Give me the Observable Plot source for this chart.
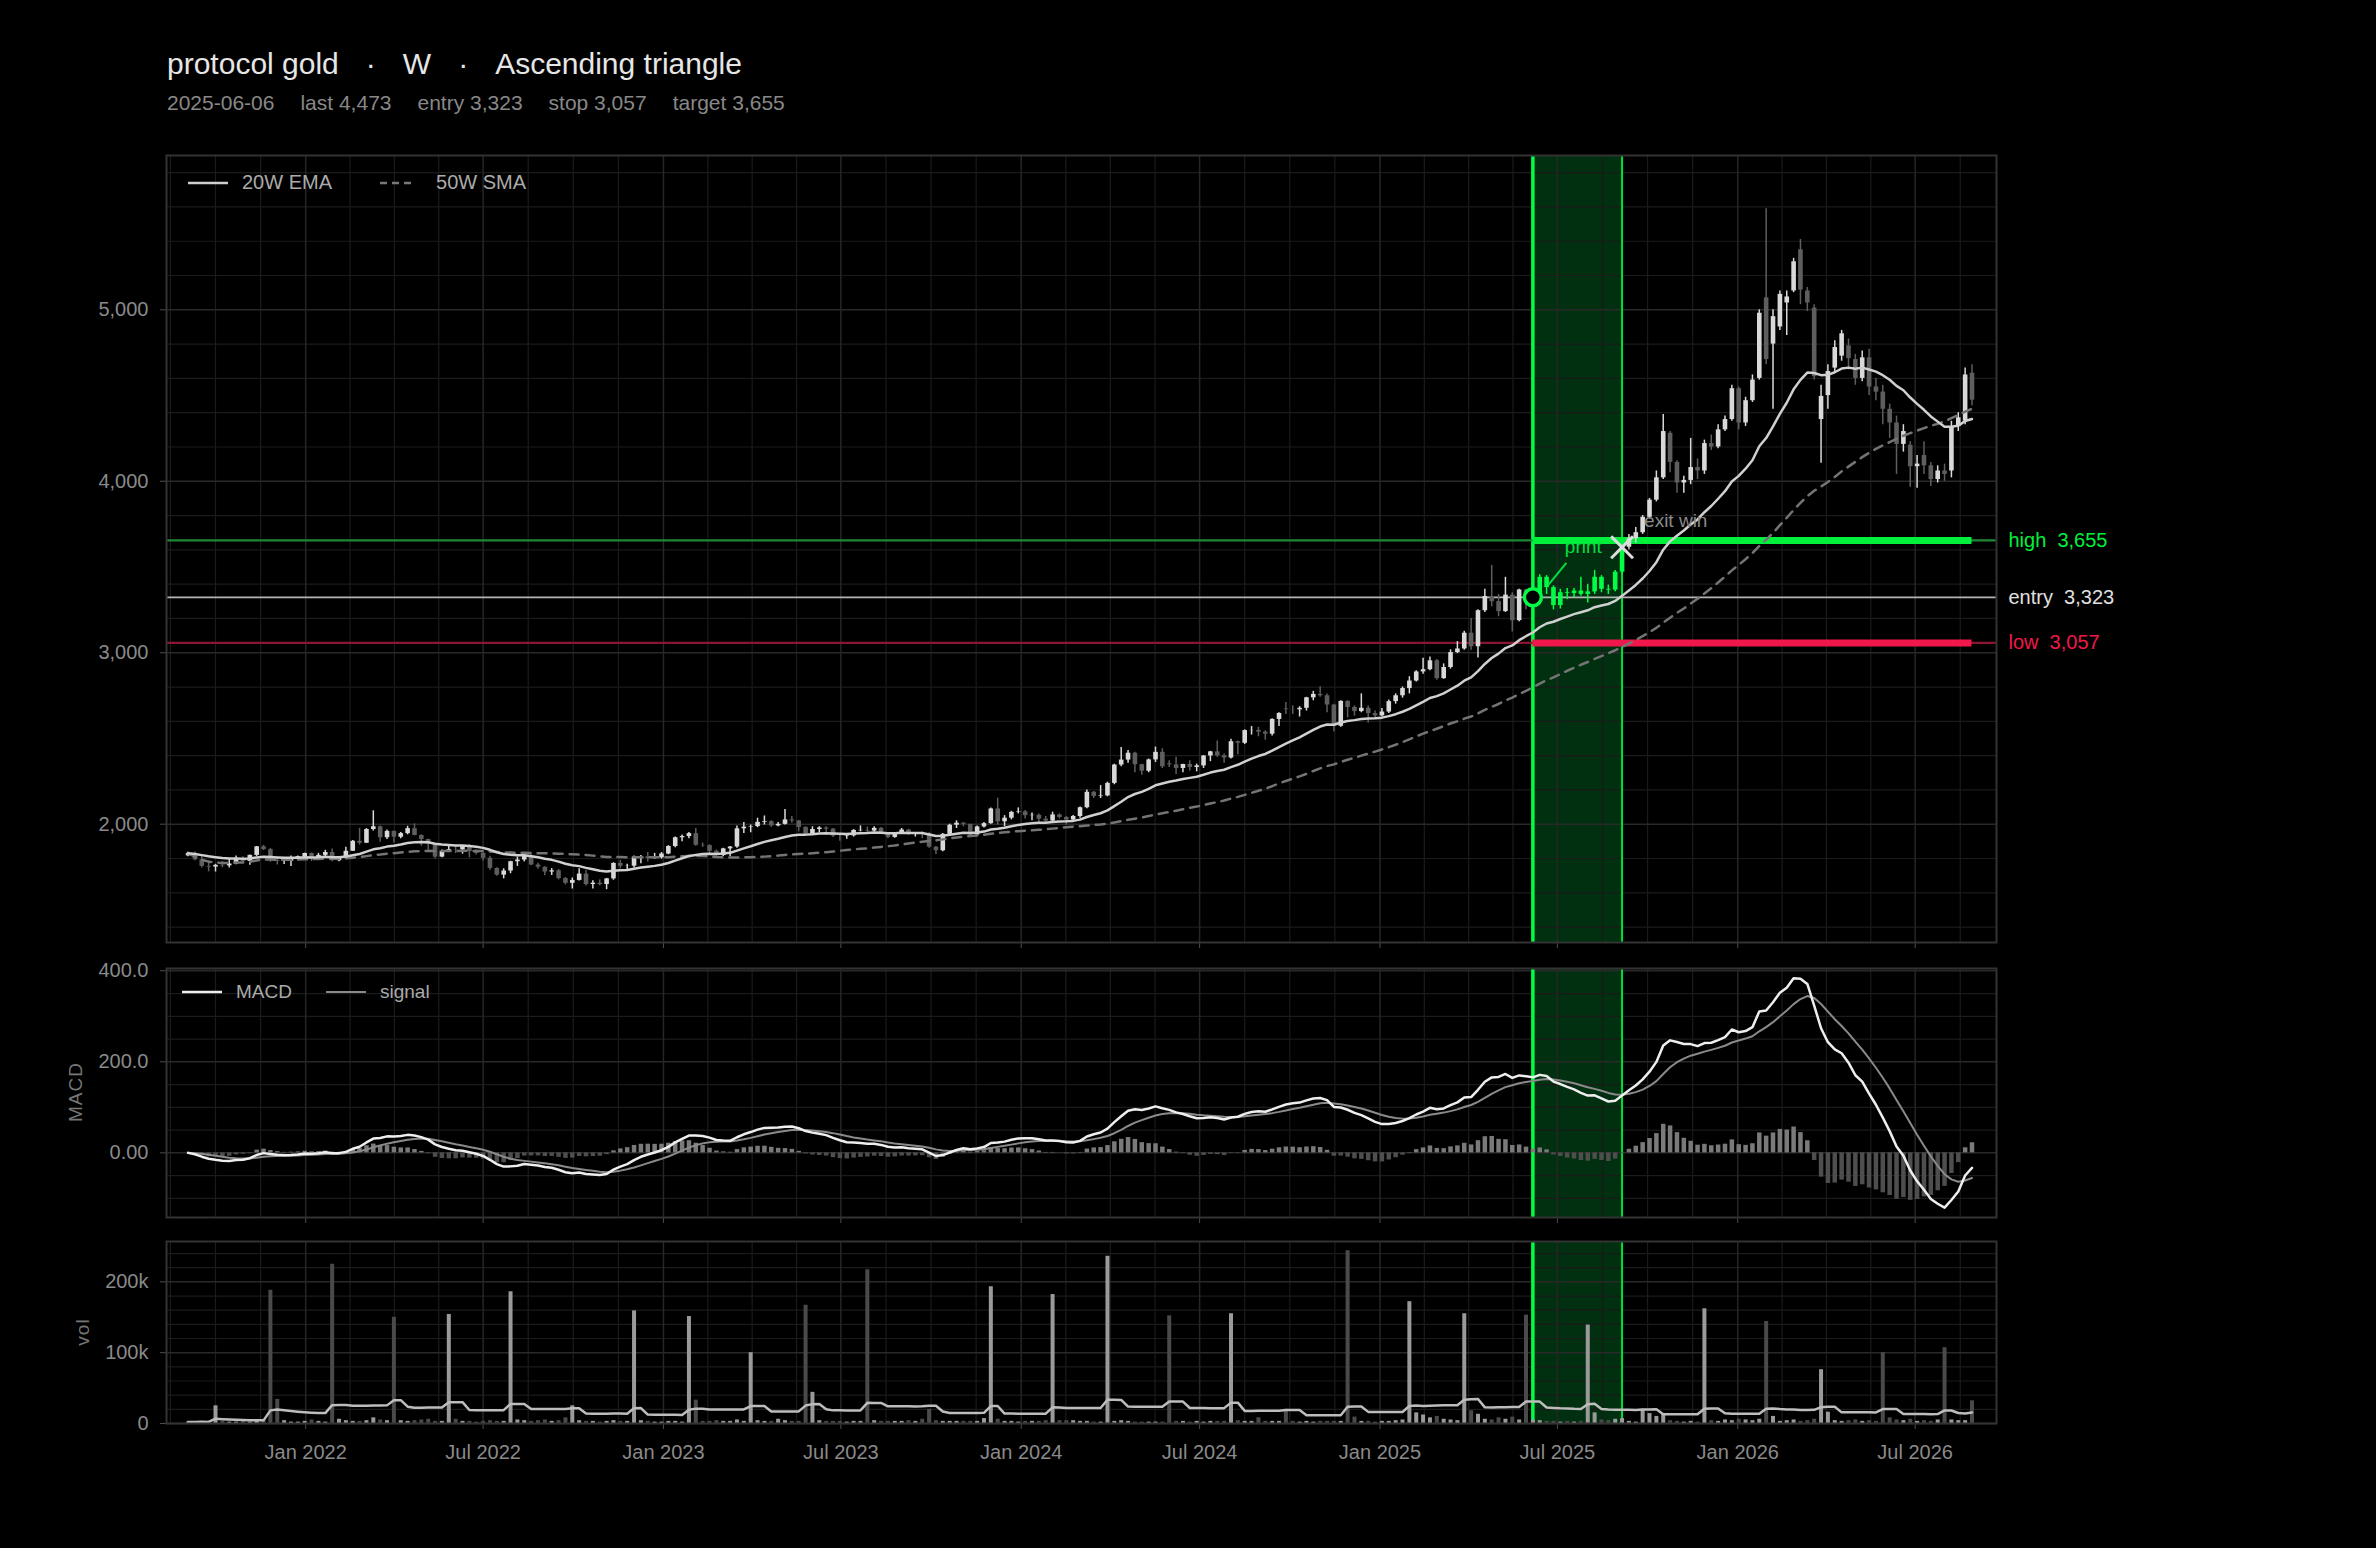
<!DOCTYPE html>
<html><head><meta charset="utf-8">
<script src="https://cdn.jsdelivr.net/npm/d3@7"></script>
<script src="https://cdn.jsdelivr.net/npm/@observablehq/plot@0.6"></script>
<style>
html,body{margin:0;padding:0;background:#000;}
body{width:2376px;height:1548px;overflow:hidden;position:relative;font-family:Helvetica,"Liberation Sans",Arial,sans-serif;}
#title{position:absolute;left:167px;top:49px;font-size:30px;line-height:30px;color:#e6e6e6;white-space:nowrap;}
#title span{margin-right:27px;}
#sub{position:absolute;left:167px;top:92px;font-size:21px;line-height:21px;color:#888;white-space:nowrap;}
#sub span{margin-right:26px;}
.panel{position:absolute;left:0;}
.lg{position:absolute;font-size:20px;color:#aaa;white-space:nowrap;display:flex;align-items:center;}
.lg svg{margin-right:14px;}
.lg .item{display:flex;align-items:center;margin-right:32px;}
.ylab{position:absolute;font-size:19px;color:#777;transform:translate(-50%,-50%) rotate(-90deg);white-space:nowrap;letter-spacing:1px;}
g[aria-label$="-axis tick"]{stroke:#4d4d4d;}
</style></head><body>
<div id="title"></div>
<div id="sub"></div>
<div id="main" class="panel" style="top:140px"></div>
<div id="macd" class="panel" style="top:955px"></div>
<div id="vol" class="panel" style="top:1228px"></div>
<div class="lg" style="left:188px;top:171px;">
  <div class="item" style="margin-right:48px"><svg width="40" height="4"><line x1="0" y1="2" x2="40" y2="2" stroke="#cfcfcf" stroke-width="2.5"/></svg>20W EMA</div>
  <div class="item"><svg width="36" height="4" style="margin-right:20px"><line x1="0" y1="2" x2="36" y2="2" stroke="#777" stroke-width="2.5" stroke-dasharray="7,5"/></svg>50W SMA</div>
</div>
<div class="lg" style="left:182px;top:981px;font-size:19px;">
  <div class="item" style="margin-right:34px"><svg width="40" height="4"><line x1="0" y1="2" x2="40" y2="2" stroke="#eeeeee" stroke-width="2.5"/></svg>MACD</div>
  <div class="item"><svg width="40" height="4"><line x1="0" y1="2" x2="40" y2="2" stroke="#8a8a8a" stroke-width="2"/></svg>signal</div>
</div>
<div class="ylab" style="left:76px;top:1092px;">MACD</div>
<div class="ylab" style="left:83px;top:1332px;">vol</div>
<script>
// ---------------- data ----------------
const symbol = "protocol gold";
const timeframe = "W";
const pattern = "Ascending triangle";
const firstWeek = "2021-09-03";           // weekly candles, Fridays
const entryDate = "2025-06-06";
const exitDate = "2025-09-05";
const entryPrice = 3323;
const stopPrice = 3057;
const targetPrice = 3655;

const open = [
1815,1830,1792,1754,1750,1760,1757,1768,1796,1783,1818,1868,1852,1788,1783,1784,1805,1811,
1829,1797,1818,1835,1787,1808,1842,1900,1889,1969,1985,1921,1958,1924,1945,1974,1934,1911,1882,1808,1842,1851,1850,1871,1840,1830,1801,1742,1703,1727,1781,1791,1816,1762,1749,1721,1728,1683,1655,1672,1709,1648,1656,1648,1681,1771,1754,1755,1809,1810,1800,1804,
1826,1870,1921,1928,1945,1877,1875,1842,1817,1856,1867,1973,1983,1986,2011,2015,1990,1999,2025,2019,1981,1944,1969,1978,1971,1930,1929,1932,1962,1964,1960,1976,1946,1923,1946,1966,1942,1947,1945,1866,1845,1941,1994,2006,1999,1937,1984,2003,2089,2014,2035,2069,
2072,2050,2052,2029,2018,2054,2039,2024,2045,2096,2186,2162,2165,2238,2345,2374,2414,2347,2309,2375,2419,2352,2346,2325,2348,2331,2340,2398,2422,2399,2386,2481,2472,2546,2547,2537,2525,2611,2672,2668,2667,2676,2737,2757,2749,2695,2571,2716,2681,2657,2676,2645,
2632,2654,2715,2749,2791,2835,2888,2901,2953,2849,2914,3001,3022,3114,3035,3245,3328,3298,3240,3336,3187,3366,3315,3323,3440,3380,3275,3350,3345,3360,3340,3355,3440,3370,3365,3470,3615,3665,3700,3790,3890,4020,4280,4110,3990,4005,4080,4060,4220,4200,4300,4360,
4540,4340,4470,4600,5070,4800,4900,5040,5110,5350,5110,5010,4360,4500,4660,4730,4790,4710,4600,4720,4550,4520,4420,4340,4215,4210,4085,4150,4090,4010,4060,4060,4320,4350,4630
];
const high = [
1836,1838,1810,1787,1766,1782,1800,1814,1810,1820,1870,1877,1859,1800,1793,1815,1815,1831,
1832,1830,1848,1855,1810,1866,1905,1976,1974,2078,1990,1966,1960,1952,1988,2002,1938,1912,1887,1850,1870,1874,1877,1881,1850,1834,1813,1746,1740,1784,1808,1825,1824,1772,1752,1741,1736,1689,1686,1740,1730,1670,1675,1684,1775,1789,1767,1815,1818,1835,1830,1835,
1875,1925,1937,1951,1975,1890,1880,1850,1860,1870,1990,2010,1995,2035,2048,2020,2010,2085,2045,2022,1985,1985,1985,1985,1975,1935,1940,1968,1990,1984,1985,1980,1950,1950,1975,1970,1950,1955,1950,1870,1945,2000,2020,2010,2000,1990,2010,2095,2152,2050,2075,2095,
2080,2065,2060,2045,2070,2060,2045,2050,2100,2200,2190,2225,2245,2350,2448,2430,2420,2350,2380,2450,2440,2370,2390,2350,2370,2350,2400,2425,2485,2410,2495,2485,2550,2570,2565,2545,2615,2650,2710,2690,2685,2740,2775,2801,2760,2700,2720,2720,2690,2760,2690,2660,
2675,2725,2760,2800,2860,2895,2968,2975,2960,2935,3017,3065,3125,3200,3250,3370,3509,3340,3440,3350,3370,3370,3400,3455,3450,3390,3370,3375,3375,3440,3400,3480,3450,3395,3480,3640,3690,3730,3800,3900,4060,4390,4290,4120,4030,4250,4130,4240,4270,4330,4380,4560,
4550,4490,4620,5000,5590,5000,5110,5110,5300,5410,5130,5030,4560,4680,4820,4880,4830,4740,4760,4770,4600,4560,4450,4380,4330,4230,4150,4230,4110,4090,4100,4350,4400,4660,4680
];
const low = [
1810,1787,1745,1722,1721,1746,1745,1764,1772,1760,1812,1846,1778,1762,1765,1753,1793,1790,
1782,1790,1806,1781,1781,1803,1841,1878,1887,1960,1895,1910,1890,1915,1938,1932,1872,1850,1797,1805,1836,1828,1825,1804,1820,1785,1732,1697,1681,1711,1754,1780,1757,1737,1700,1701,1675,1646,1622,1668,1640,1622,1640,1618,1673,1740,1735,1745,1770,1780,1795,1796,
1822,1862,1897,1915,1872,1865,1830,1815,1811,1810,1860,1945,1950,1980,1995,1982,1985,1995,2005,1955,1936,1938,1950,1935,1922,1900,1912,1925,1955,1945,1955,1940,1915,1918,1940,1935,1925,1915,1860,1823,1840,1930,1975,1985,1932,1935,1978,2000,1995,1985,2025,2060,
2030,2020,2010,2010,2015,2030,1995,2020,2035,2090,2150,2150,2160,2230,2335,2355,2300,2285,2300,2360,2325,2330,2290,2300,2310,2305,2325,2365,2390,2355,2380,2405,2465,2520,2510,2490,2515,2570,2640,2640,2625,2660,2720,2740,2650,2537,2565,2620,2630,2650,2590,2620,
2625,2645,2700,2735,2760,2830,2875,2895,2840,2845,2905,2995,3015,3015,2970,3235,3268,3210,3235,3121,3180,3250,3295,3320,3340,3250,3255,3310,3320,3330,3290,3340,3350,3340,3355,3460,3600,3640,3690,3780,3880,4010,4050,3930,3930,3980,4010,4040,4180,4190,4290,4350,
4300,4320,4460,4590,4680,4420,4880,4850,5100,5030,4990,4590,4105,4420,4640,4700,4650,4560,4580,4500,4470,4330,4250,4040,4170,3965,3960,4040,3970,3990,4000,4020,4290,4330,4440
];
const close = [
1830,1792,1754,1750,1760,1757,1768,1796,1783,1818,1868,1852,1788,1783,1784,1805,1811,1829,
1797,1818,1835,1787,1808,1842,1900,1889,1969,1985,1921,1958,1924,1945,1974,1934,1911,1882,1808,1842,1851,1850,1871,1840,1830,1801,1742,1703,1727,1781,1791,1816,1762,1749,1721,1728,1683,1655,1672,1709,1648,1656,1648,1681,1771,1754,1755,1809,1810,1800,1804,1826,
1870,1921,1928,1945,1877,1875,1842,1817,1856,1867,1973,1983,1986,2011,2015,1990,1999,2025,2019,1981,1944,1969,1978,1971,1930,1929,1932,1964,1964,1960,1976,1946,1923,1946,1966,1942,1945,1945,1866,1845,1941,1994,2006,1999,1937,1984,2003,2089,2014,2035,2069,2072,
2050,2052,2029,2018,2054,2039,2024,2045,2096,2186,2162,2165,2238,2345,2374,2414,2347,2309,2375,2419,2335,2346,2325,2348,2331,2340,2398,2422,2399,2386,2481,2472,2546,2547,2537,2525,2611,2646,2668,2667,2676,2737,2757,2749,2695,2571,2716,2681,2657,2676,2645,2632,
2654,2715,2749,2791,2835,2888,2901,2953,2849,2914,3001,3022,3114,3035,3245,3328,3298,3240,3336,3187,3366,3315,3323,3440,3380,3275,3350,3345,3360,3340,3355,3440,3370,3365,3470,3615,3665,3700,3790,3890,4020,4290,4110,3990,4005,4080,4060,4220,4200,4300,4360,4540,
4340,4470,4590,4980,4710,4960,5090,5075,5280,5115,5040,4610,4495,4640,4780,4860,4715,4600,4720,4550,4520,4420,4340,4215,4290,4085,4100,4090,4010,4060,4040,4320,4370,4620,4473
];
const volumeK = [
2,2,3,2,25,3,2,2,3,2,3,4,188,34,4,2,2,3,
5,3,2,225,6,4,3,3,4,8,5,4,150,4,3,4,5,6,3,3,154,6,3,3,2,3,4,3,3,186,5,4,3,4,5,3,4,8,25,4,3,3,2,3,4,3,3,159,4,3,2,2,
3,3,2,151,33,3,3,4,3,3,5,3,100,4,3,3,6,4,3,3,167,44,4,3,3,3,2,3,3,217,4,3,3,3,3,4,3,6,20,4,3,3,3,3,3,3,7,193,6,3,3,2,
3,3,3,4,182,4,4,4,3,3,2,2,236,3,4,3,2,2,2,2,2,152,3,3,2,3,2,3,3,3,155,4,3,3,8,3,3,3,20,3,2,3,2,3,3,3,3,244,9,3,3,2,
3,3,4,5,172,15,12,8,10,6,5,4,155,18,13,6,5,8,6,9,5,153,5,4,3,3,2,3,2,3,139,15,5,4,6,7,3,2,20,14,10,13,4,3,2,3,2,162,4,3,5,4,
6,5,4,6,144,10,3,4,5,3,4,6,76,16,4,3,4,5,3,4,3,100,8,5,4,6,3,4,3,5,107,5,4,4,32
];

// x-axis half-year ticks
const xTickStrings = ["2022-01-01","2022-07-01","2023-01-01","2023-07-01","2024-01-01","2024-07-01","2025-01-01","2025-07-01","2026-01-01","2026-07-01"];
const priceTicks = [2000, 3000, 4000, 5000];
const macdTicks = [0, 200, 400];
const volTicksK = [0, 100, 200];

// ---------------- derived ----------------
const parse = d3.utcParse("%Y-%m-%d");
const t0 = parse(firstWeek);
const dates = close.map((_, i) => d3.utcWeek.offset(t0, i));
const entryD = parse(entryDate), exitD = parse(exitDate);
const xTicks = xTickStrings.map(parse);
const xDomain = [d3.utcDay.offset(t0, -22), d3.utcDay.offset(dates[dates.length - 1], 25)];

function ema(arr, n) { const a = 2 / (n + 1); const out = []; arr.forEach((v, i) => out.push(i ? a * v + (1 - a) * out[i - 1] : v)); return out; }
function sma(arr, n) { return arr.map((_, i) => d3.mean(arr.slice(Math.max(0, i - n + 1), i + 1))); }

const ema20 = ema(close, 20);
const sma50 = sma(close, 50);
const e12 = ema(close, 12), e26 = ema(close, 26);
const macd = e12.map((v, i) => v - e26[i]);
const signal = ema(macd, 9);
const volAvg = sma(volumeK, 20);

const UP = "#d9d9d9", DOWN = "#5e5e5e", GREEN = "#00ff44";
const candles = dates.map((d, i) => {
  const inTrade = d >= entryD && d <= exitD;
  const up = close[i] >= open[i];
  return {date: d, o: open[i], h: high[i], l: low[i], c: close[i], v: volumeK[i],
    ema: ema20[i], sma: sma50[i], macd: macd[i], sig: signal[i], hist: macd[i] - signal[i], vavg: volAvg[i],
    col: inTrade ? GREEN : (up ? UP : DOWN), vcol: up ? "#9a9a9a" : "#4a4a4a"};
});
const last = candles[candles.length - 1];
const exitCandle = candles.find(d => +d.date === +exitD);
const entryPt = {date: entryD, y: entryPrice};
const exitPt = {date: exitD, y: exitCandle.c};

// ---------------- header ----------------
const fmt = d3.format(",");
document.getElementById("title").innerHTML =
  `<span>${symbol}</span><span>·</span><span>${timeframe}</span><span>·</span><span>${pattern}</span>`;
document.getElementById("sub").innerHTML =
  `<span>${entryDate}</span><span>last ${fmt(last.c)}</span><span>entry ${fmt(entryPrice)}</span><span>stop ${fmt(stopPrice)}</span><span>target ${fmt(targetPrice)}</span>`;

// ---------------- grid helpers ----------------
const halfYears = d3.range(2021, 2028).flatMap(y => [new Date(Date.UTC(y, 0, 1)), new Date(Date.UTC(y, 6, 1))]);
const gridMajorX = [], gridMinorX = [];
for (let k = 0; k < halfYears.length - 1; k++) {
  const a = +halfYears[k], b = +halfYears[k + 1];
  for (let j = 0; j < 4; j++) {
    const d = new Date(a + (b - a) * j / 4);
    if (d >= xDomain[0] && d <= xDomain[1]) (j === 0 ? gridMajorX : gridMinorX).push(d);
  }
}
const W = 2376, ML = 166, MR = 380;
const FONT = 'Helvetica, "Liberation Sans", Arial, sans-serif';
const baseStyle = {background: "transparent", color: "#8a8a8a", fontSize: "20px", fontFamily: FONT};
function gridMarks(yMinor, yMajor) {
  return [
    Plot.ruleY(yMinor, {stroke: "#1b1b1b", strokeWidth: 1.2}),
    Plot.ruleX(gridMinorX, {stroke: "#1b1b1b", strokeWidth: 1.2}),
    Plot.ruleY(yMajor, {stroke: "#292929", strokeWidth: 1.5}),
    Plot.ruleX(gridMajorX, {stroke: "#262626", strokeWidth: 1.5})
  ];
}
function tradeBand(yd) {
  return [Plot.rect([{x1: entryD, x2: exitD, y1: yd[0], y2: yd[1]}], {x1: "x1", x2: "x2", y1: "y1", y2: "y2", fill: "#00300f"})];
}
function tradeEdges() {
  return [
    Plot.ruleX([entryD], {stroke: GREEN, strokeWidth: 3.5}),
    Plot.ruleX([exitD], {stroke: "#00e03c", strokeWidth: 2})
  ];
}

// ---------------- main panel ----------------
const yMain = [1310, 5900];
const mainMinor = d3.range(1400, 5900, 200).filter(v => v % 1000 !== 0);
const levels = [
  {y: targetPrice, thin: "#1b8a33", thick: "#00f03c", label: "high", tc: "#00f03c"},
  {y: entryPrice, thin: "#b4b4b4", thick: null, label: "entry", tc: "#e0e0e0"},
  {y: stopPrice, thin: "#8c1533", thick: "#f0184a", label: "low", tc: "#f0184a"}
];
const mainChart = Plot.plot({
  width: W, height: 814, marginLeft: ML, marginRight: MR, marginTop: 15, marginBottom: 12,
  style: baseStyle,
  color: {type: "identity"},
  x: {type: "utc", domain: xDomain, ticks: xTicks, tickFormat: () => "", tickSize: 6, label: null},
  y: {domain: yMain, ticks: priceTicks, tickFormat: d => fmt(d), tickSize: 6, tickPadding: 12, label: null},
  marks: [
    ...tradeBand(yMain),
    ...gridMarks(mainMinor, priceTicks),
    ...tradeEdges(),
    Plot.ruleY(levels, {y: "y", stroke: "thin", strokeWidth: d => d.label === "entry" ? 1.6 : 2.2}),
    Plot.ruleY(levels.filter(d => d.thick), {y: "y", x1: () => entryD, x2: () => last.date, stroke: "thick", strokeWidth: 7}),
    Plot.text(levels, {x: () => xDomain[1], y: "y", text: d => `${d.label}\u00a0\u00a0${fmt(d.y)}`, fill: "tc", textAnchor: "start", dx: 12, fontSize: 20}),
    Plot.ruleX(candles, {x: "date", y1: "l", y2: "h", stroke: "col", strokeWidth: 1.5}),
    Plot.ruleX(candles, {x: "date", y1: "o", y2: "c", stroke: "col", strokeWidth: 4.6}),
    Plot.line(candles, {x: "date", y: "sma", stroke: "#747474", strokeWidth: 2.5, strokeDasharray: "9,7"}),
    Plot.line(candles, {x: "date", y: "ema", stroke: "#d0d0d0", strokeWidth: 2.5}),
    Plot.text([exitPt], {x: "date", y: "y", text: () => "exit win", fill: "#8a8a8a", textAnchor: "start", dx: 22, dy: -26, fontSize: 19}),
    Plot.text([entryPt], {x: "date", y: "y", text: () => "print", fill: "#00e040", textAnchor: "start", dx: 32, dy: -50, fontSize: 19}),
    Plot.dot([entryPt], {x: "date", y: "y", r: 8.5, stroke: GREEN, strokeWidth: 3.5, fill: "#000"}),
    Plot.dot([exitPt], {x: "date", y: "y", r: 10, symbol: "times", stroke: "#dddddd", strokeWidth: 3}),
    Plot.frame({stroke: "#333", strokeWidth: 2})
  ]
});
document.getElementById("main").append(mainChart);
// leader line from the entry marker to the "print" label
try {
  const sx = mainChart.scale("x"), sy = mainChart.scale("y");
  const px = sx.apply(entryPt.date), py = sy.apply(entryPt.y);
  d3.select(mainChart).append("line")
    .attr("x1", px + 16).attr("y1", py - 12).attr("x2", px + 34).attr("y2", py - 34)
    .attr("stroke", "#00e040").attr("stroke-width", 2);
} catch (e) {}

// ---------------- MACD panel ----------------
const yMacd = [-142, 405];
const macdMinor = d3.range(-100, 401, 50).filter(v => !macdTicks.includes(v));
const macdChart = Plot.plot({
  width: W, height: 274, marginLeft: ML, marginRight: MR, marginTop: 13, marginBottom: 12,
  style: baseStyle,
  color: {type: "identity"},
  x: {type: "utc", domain: xDomain, ticks: xTicks, tickFormat: () => "", tickSize: 6, label: null},
  y: {domain: yMacd, ticks: macdTicks, tickFormat: d => d === 0 ? "0.00" : d.toFixed(1), tickSize: 6, tickPadding: 12, label: null},
  marks: [
    ...tradeBand(yMacd),
    ...gridMarks(macdMinor, macdTicks),
    ...tradeEdges(),
    Plot.ruleX(candles, {x: "date", y1: 0, y2: "hist", stroke: d => d.hist >= 0 ? "#7a7a7a" : "#4e4e4e", strokeWidth: 4.5}),
    Plot.line(candles, {x: "date", y: "sig", stroke: "#8a8a8a", strokeWidth: 2}),
    Plot.line(candles, {x: "date", y: "macd", stroke: "#eeeeee", strokeWidth: 2.5}),
    Plot.frame({stroke: "#333", strokeWidth: 2})
  ]
});
document.getElementById("macd").append(macdChart);

// ---------------- volume panel ----------------
const yVol = [0, 257];
const volMinor = d3.range(20, 257, 20).filter(v => !volTicksK.includes(v));
const volChart = Plot.plot({
  width: W, height: 245, marginLeft: ML, marginRight: MR, marginTop: 13, marginBottom: 50,
  style: baseStyle,
  color: {type: "identity"},
  x: {type: "utc", domain: xDomain, ticks: xTicks, tickFormat: d3.utcFormat("%b %Y"), tickSize: 6, tickPadding: 15, label: null},
  y: {domain: yVol, ticks: volTicksK, tickFormat: d => d === 0 ? "0" : d + "k", tickSize: 6, tickPadding: 12, label: null},
  marks: [
    ...tradeBand(yVol),
    ...gridMarks(volMinor, volTicksK),
    ...tradeEdges(),
    Plot.ruleX(candles, {x: "date", y1: 0, y2: "v", stroke: "vcol", strokeWidth: 4}),
    Plot.line(candles, {x: "date", y: "vavg", stroke: "#bdbdbd", strokeWidth: 2.5}),
    Plot.frame({stroke: "#333", strokeWidth: 2})
  ]
});
document.getElementById("vol").append(volChart);
</script>
</body></html>
